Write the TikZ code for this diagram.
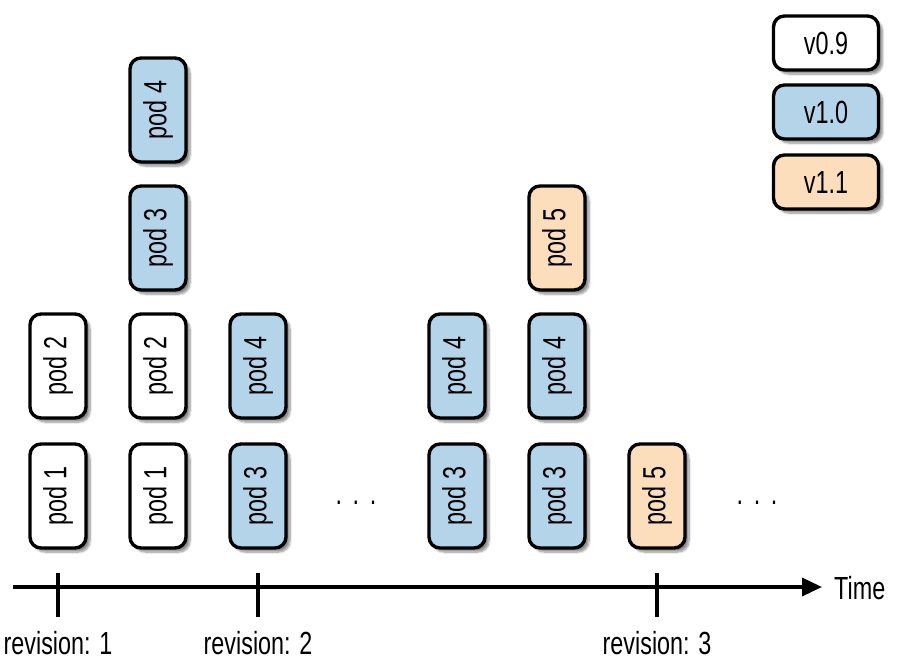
\documentclass[tikz,border=0pt]{standalone}
\usepackage{fontspec}
\setmainfont[FakeStretch=0.73]{Liberation Sans}
\usetikzlibrary{shadows.blur,arrows.meta}
\definecolor{vblue}{RGB}{180,212,234}
\definecolor{vorange}{RGB}{252,221,188}
\newcommand{\bigtxt}{\fontsize{32}{34}\selectfont}
\tikzset{
  box/.style={draw=black, line width=3.4pt, rounded corners=11pt, inner sep=0pt,
    blur shadow={shadow xshift=4pt, shadow yshift=-4pt, shadow blur steps=8, shadow opacity=45}, font=\bigtxt},
  pod/.style={box, rotate=90, minimum width=104pt, minimum height=56pt},
  leg/.style={box, minimum width=105pt, minimum height=54pt},
  old/.style={fill=white},
  cur/.style={fill=vblue},
  new/.style={fill=vorange},
  lbl/.style={font=\bigtxt, inner sep=0pt},
  axis/.style={line width=3.4pt}
}
\begin{document}
\begin{tikzpicture}[x=1pt,y=-1pt]
\useasboundingbox (0,0) rectangle (907,666);
% column 1
\node[pod,old] (c1a) at (58,496) {pod 1};
\node[pod,old] (c1b) at (58,366) {pod 2};
% column 2
\node[pod,old] (c2a) at (158,496) {pod 1};
\node[pod,old] (c2b) at (158,366) {pod 2};
\node[pod,cur] (c2c) at (158,238) {pod 3};
\node[pod,cur] (c2d) at (158,110) {pod 4};
% column 3
\node[pod,cur] (c3a) at (258,496) {pod 3};
\node[pod,cur] (c3b) at (258,366) {pod 4};
% dots
\node[lbl] (d1) at (356,503) {.\,\,.\,\,.};
% column 4
\node[pod,cur] (c4a) at (457,496) {pod 3};
\node[pod,cur] (c4b) at (457,366) {pod 4};
% column 5
\node[pod,cur] (c5a) at (557,496) {pod 3};
\node[pod,cur] (c5b) at (557,366) {pod 4};
\node[pod,new] (c5c) at (557,238) {pod 5};
% column 6
\node[pod,new] (c6a) at (657,496) {pod 5};
\node[lbl] (d2) at (757,503) {.\,\,.\,\,.};
% legend
\node[leg,old] (l1) at (826,43) {v0.9};
\node[leg,cur] (l2) at (826,112) {v1.0};
\node[leg,new] (l3) at (826,182) {v1.1};
% axis
\coordinate (a0) at (13,587);
\coordinate (a1) at (822,587);
\draw[axis,-{Triangle[length=20pt,width=18pt]}] (a0) -- (a1);
\node[lbl, anchor=west] (time) at (834,588) {Time};
\coordinate (t1a) at (58,573); \coordinate (t1b) at (58,617);
\coordinate (t2a) at (258,573); \coordinate (t2b) at (258,617);
\coordinate (t3a) at (657,573); \coordinate (t3b) at (657,617);
\draw[axis] (t1a) -- (t1b);
\draw[axis] (t2a) -- (t2b);
\draw[axis] (t3a) -- (t3b);
\node[lbl] (r1) at (58,643) {revision: 1};
\node[lbl] (r2) at (258,643) {revision: 2};
\node[lbl] (r3) at (657,643) {revision: 3};
\end{tikzpicture}
\end{document}
